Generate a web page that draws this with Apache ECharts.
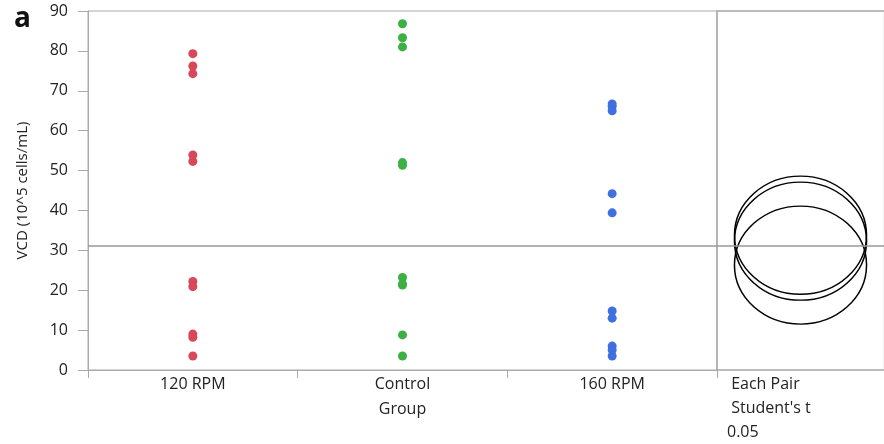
<!DOCTYPE html>
<html>
<head>
<meta charset="utf-8">
<script src="https://cdn.jsdelivr.net/npm/echarts@6/dist/echarts.min.js"></script>
<style>html,body{margin:0;padding:0;background:#fff}#c{width:884px;height:444px}</style>
</head>
<body>
<div id="c"></div>
<script>
const categories = ['120 RPM', 'Control', '160 RPM'];
const rpm120 = [79.3, 76.2, 74.3, 53.9, 52.3, 22.2, 20.9, 9.0, 8.2, 3.5];
const control = [86.8, 83.3, 81.0, 52.0, 51.3, 23.2, 21.6, 21.3, 8.8, 3.5];
const rpm160 = [66.7, 66.1, 65.0, 44.2, 39.4, 14.8, 13.0, 6.0, 5.0, 3.5];
const circleCenters = [32.3, 33.8, 26.3]; // 120 RPM, Control, 160 RPM
const circleRadius = 14.8;
const grandMean = 31.1;
const yTicks = [0, 10, 20, 30, 40, 50, 60, 70, 80, 90];

const colors = ['#d9475b', '#3cb043', '#3f6fe0'];
const groups = [rpm120, control, rpm160];
const FONT = 'Open Sans';

const scatterSeries = groups.map((vals, gi) => ({
  type: 'scatter', xAxisIndex: 0, yAxisIndex: 0,
  symbolSize: 9,
  itemStyle: { color: colors[gi], opacity: 1 },
  data: vals.map(v => [categories[gi], v]),
  z: 3
}));
scatterSeries[0].markLine = {
  silent: true, symbol: 'none', label: { show: false },
  lineStyle: { color: '#999', width: 1.5, type: 'solid' },
  data: [{ yAxis: grandMean }]
};

const edgeAxis = {
  axisLine: { show: true, onZero: false, lineStyle: { color: '#aaa', width: 1.5 } },
  axisTick: { show: false }, axisLabel: { show: false }, splitLine: { show: false }
};

const option = {
  animation: false,
  grid: [
    { left: 88, top: 11, width: 629, height: 359, show: true, borderColor: '#aaa', borderWidth: 1 },
    { left: 717, top: 11, right: 0, height: 359, show: true, borderColor: '#e6e6e6', borderWidth: 1 }
  ],
  xAxis: [
    {
      type: 'category', gridIndex: 0, data: categories,
      name: 'Group', nameLocation: 'middle', nameGap: 31,
      nameTextStyle: { fontFamily: FONT, fontSize: 16, color: '#222' },
      axisLine: { lineStyle: { color: '#aaa', width: 1 } },
      axisTick: { show: true, length: 8, lineStyle: { color: '#aaa' } },
      axisLabel: { fontFamily: FONT, fontSize: 16, color: '#222', margin: 6 },
      splitLine: { show: false }
    },
    Object.assign({ type: 'value', gridIndex: 1, min: -1, max: 1, position: 'bottom' }, edgeAxis),
    Object.assign({ type: 'value', gridIndex: 1, min: -1, max: 1, position: 'top' }, edgeAxis)
  ],
  yAxis: [
    {
      type: 'value', gridIndex: 0, min: 0, max: 90, interval: 10,
      name: 'VCD (10^5 cells/mL)', nameLocation: 'middle', nameGap: 58,
      nameTextStyle: { fontFamily: FONT, fontSize: 15, color: '#222' },
      axisLine: { show: true, onZero: false, lineStyle: { color: '#aaa', width: 1 } },
      axisTick: { show: true, length: 10, lineStyle: { color: '#aaa' } },
      axisLabel: { fontFamily: FONT, fontSize: 16, color: '#222', margin: 20,
        formatter: v => yTicks.includes(v) ? String(v) : '' },
      splitLine: { show: false }
    },
    Object.assign({ type: 'value', gridIndex: 1, min: 0, max: 90, interval: 10, position: 'left' }, edgeAxis)
  ],
  series: scatterSeries.concat([
    {
      type: 'custom', xAxisIndex: 1, yAxisIndex: 1,
      data: circleCenters.map(c => [0, c, circleRadius]),
      renderItem: function (params, api) {
        const c = api.coord([api.value(0), api.value(1)]);
        const ry = api.size([0, api.value(2)])[1];
        const rx = ry * 66 / 59;
        return {
          type: 'circle', x: c[0], y: c[1], scaleX: 1, scaleY: ry / rx,
          shape: { cx: 0, cy: 0, r: rx },
          style: { fill: 'none', stroke: '#000', lineWidth: 1.5, strokeNoScale: true }
        };
      },
      z: 3,
      markLine: {
        silent: true, symbol: 'none', label: { show: false },
        lineStyle: { color: '#999', width: 1.5, type: 'solid' },
        data: [{ yAxis: grandMean }]
      }
    }
  ]),
  graphic: [
    { type: 'text', left: 14, top: 5, style: { text: 'a', fontFamily: FONT, fontSize: 28, fontWeight: 'bold', fill: '#111' } },
    { type: 'text', left: 727, top: 372, style: { text: ' Each Pair\n Student\'s t\n0.05', fontFamily: FONT, fontSize: 16, lineHeight: 24, fill: '#222' } }
  ]
};

const chart = echarts.init(document.getElementById('c'), null, { renderer: 'canvas' });
chart.setOption(option);
</script>
</body>
</html>
